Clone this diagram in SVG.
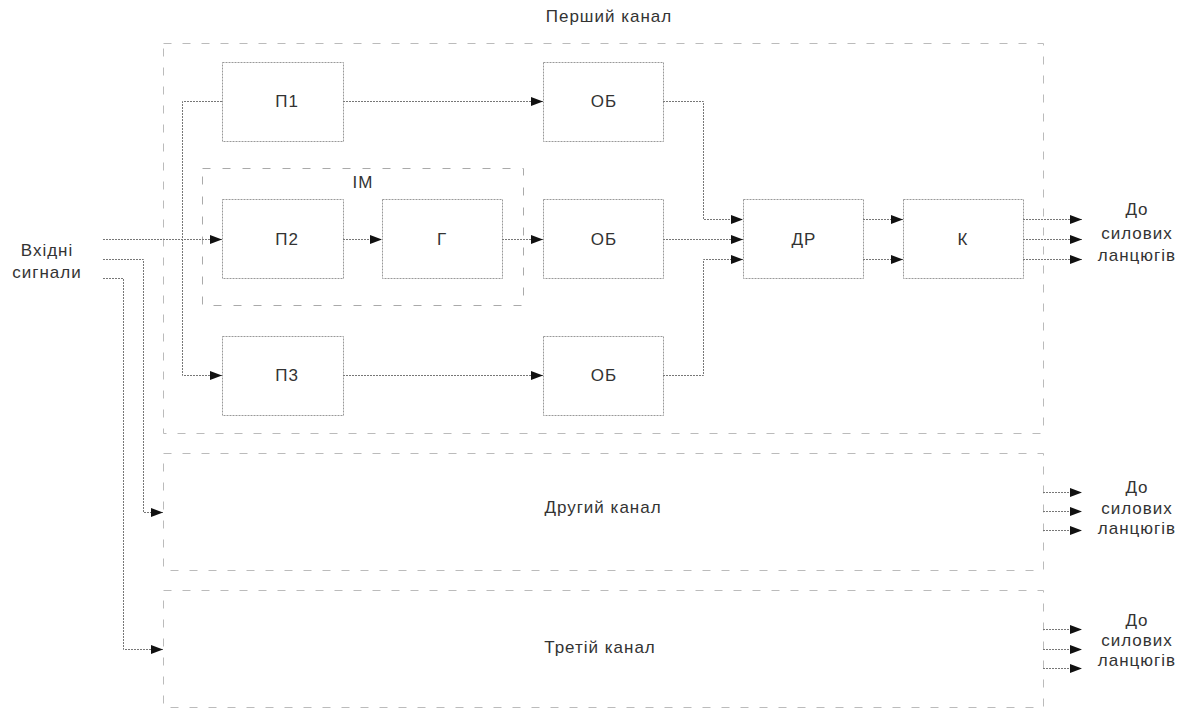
<svg xmlns="http://www.w3.org/2000/svg" width="1183" height="709" viewBox="0 0 1183 709">
<defs>
<marker id="arr" markerUnits="userSpaceOnUse" markerWidth="13" markerHeight="10" refX="12" refY="4.5" orient="auto"><path d="M0,0 L12,4.5 L0,9 z" fill="#111"/></marker>
</defs>
<style>
text{font-family:"Liberation Sans",Arial,sans-serif;font-size:17px;letter-spacing:1px;fill:#333;text-anchor:middle}
.blk{fill:none;stroke:#999;stroke-width:1;stroke-dasharray:2 1}
.ch{fill:none;stroke:#bbb;stroke-width:1;stroke-dasharray:8 11}
.im{fill:none;stroke:#aaa;stroke-width:1;stroke-dasharray:8 12}
.c{fill:none;stroke:#777;stroke-width:1;stroke-dasharray:2 1;marker-end:url(#arr)}
</style>
<rect width="1183" height="709" fill="#fff"/>
<g id="channel1">
<rect class="ch" x="163.5" y="43.5" width="880" height="390"/>
<text x="609" y="22">Перший канал</text>
</g>
<g id="channel2">
<rect class="ch" x="163.5" y="453.5" width="880" height="117"/>
<text x="603" y="513">Другий канал</text>
</g>
<g id="channel3">
<rect class="ch" x="163.5" y="590.5" width="880" height="117"/>
<text x="600" y="653">Третій канал</text>
</g>
<g id="im">
<rect class="im" x="202.5" y="168.5" width="321" height="137"/>
<text x="363" y="188">ІМ</text>
</g>
<g id="p1"><rect class="blk" x="222.5" y="62.5" width="121" height="79"/><text x="287" y="107">П1</text></g>
<g id="p2"><rect class="blk" x="222.5" y="199.5" width="121" height="79"/><text x="287" y="245">П2</text></g>
<g id="g"><rect class="blk" x="382.5" y="199.5" width="120" height="79"/><text x="442" y="245">Г</text></g>
<g id="p3"><rect class="blk" x="222.5" y="336.5" width="121" height="79"/><text x="287" y="381">П3</text></g>
<g id="ob1"><rect class="blk" x="543.5" y="62.5" width="120" height="79"/><text x="604" y="107">ОБ</text></g>
<g id="ob2"><rect class="blk" x="543.5" y="199.5" width="120" height="79"/><text x="604" y="245">ОБ</text></g>
<g id="ob3"><rect class="blk" x="543.5" y="336.5" width="120" height="79"/><text x="604" y="381">ОБ</text></g>
<g id="dr"><rect class="blk" x="743.5" y="199.5" width="120" height="79"/><text x="804" y="245">ДР</text></g>
<g id="k"><rect class="blk" x="903.5" y="199.5" width="120" height="79"/><text x="963" y="245">К</text></g>
<g id="inputs">
<text x="47" y="256">Вхідні</text>
<text x="47" y="278">сигнали</text>
</g>
<g id="out1"><text x="1137" y="215">До</text><text x="1137" y="239">силових</text><text x="1137" y="261">ланцюгів</text></g>
<g id="out2"><text x="1137" y="493">До</text><text x="1137" y="514">силових</text><text x="1137" y="534">ланцюгів</text></g>
<g id="out3"><text x="1137" y="626">До</text><text x="1137" y="646">силових</text><text x="1137" y="666">ланцюгів</text></g>
<g id="connectors">
<path class="c" d="M103,239.5 H222"/>
<path class="c" d="M103,259.5 H143.5 V512.5 H163"/>
<path class="c" d="M103,278.5 H123.5 V649.5 H163"/>
<path class="c" d="M222,101.5 H182.5 V375.5 H222"/>
<path class="c" d="M343,101.5 H543"/>
<path class="c" d="M343,239.5 H382"/>
<path class="c" d="M502,239.5 H543"/>
<path class="c" d="M343,375.5 H543"/>
<path class="c" d="M663,101.5 H703.5 V219.5 H743"/>
<path class="c" d="M663,239.5 H743"/>
<path class="c" d="M663,375.5 H703.5 V259.5 H743"/>
<path class="c" d="M863,219.5 H903"/>
<path class="c" d="M863,259.5 H903"/>
<path class="c" d="M1023,219.5 H1082"/>
<path class="c" d="M1023,239.5 H1082"/>
<path class="c" d="M1023,259.5 H1082"/>
<path class="c" d="M1043,492.5 H1082"/>
<path class="c" d="M1043,511.5 H1082"/>
<path class="c" d="M1043,530.5 H1082"/>
<path class="c" d="M1043,629.5 H1082"/>
<path class="c" d="M1043,649.5 H1082"/>
<path class="c" d="M1043,668.5 H1082"/>
</g>
</svg>
